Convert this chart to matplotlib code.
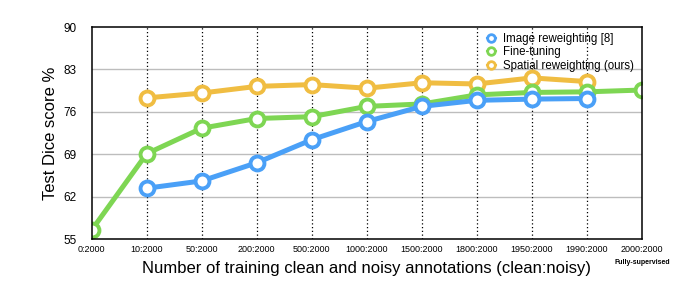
import matplotlib
matplotlib.use("Agg")
import matplotlib.pyplot as plt
from matplotlib.lines import Line2D

plt.rcParams['font.family'] = ['Liberation Sans', 'DejaVu Sans']

categories = ["0:2000", "10:2000", "50:2000", "200:2000", "500:2000", "1000:2000",
              "1500:2000", "1800:2000", "1950:2000", "1990:2000", "2000:2000"]
image_rew_idx = [1, 2, 3, 4, 5, 6, 7, 8, 9]
image_rew = [63.4, 64.6, 67.6, 71.4, 74.4, 76.9, 77.9, 78.1, 78.2]
finetune_idx = [0, 1, 2, 3, 4, 5, 6, 7, 8, 9, 10]
finetune = [56.5, 69.1, 73.3, 74.9, 75.2, 76.9, 77.3, 78.8, 79.2, 79.3, 79.6]
spatial_idx = [1, 2, 3, 4, 5, 6, 7, 8, 9]
spatial = [78.3, 79.1, 80.2, 80.5, 79.9, 80.8, 80.6, 81.6, 81.0]
yticks = [55, 62, 69, 76, 83, 90]

c_blue = "#4aa0f7"
c_green = "#7ed653"
c_yellow = "#f0bd42"

fig = plt.figure(figsize=(7, 3), dpi=100)
ax = fig.add_axes([0.131, 0.203, 0.786, 0.707])

for y in yticks[1:-1]:
    ax.axhline(y, color="#bdbdbd", lw=1.0, zorder=0)
for i in range(1, len(categories) - 1):
    ax.axvline(i, color="black", lw=0.9, ls=(0, (1, 2)), zorder=0)

style = dict(lw=3.6, marker="o", ms=10, mfc="white", mew=2.8)
ax.plot(spatial_idx, spatial, color=c_yellow, mec=c_yellow, zorder=3,
        label="Spatial reweighting (ours)", **style)
ax.plot(finetune_idx, finetune, color=c_green, mec=c_green, zorder=4,
        label="Fine-tuning", **style)
ax.plot(image_rew_idx, image_rew, color=c_blue, mec=c_blue, zorder=5,
        label="Image reweighting [8]", **style)

ax.set_xlim(0, len(categories) - 1)
ax.set_ylim(55, 90)
ax.set_yticks(yticks)
ax.set_yticklabels([str(v) for v in yticks], fontsize=8.5)
ax.set_xticks(range(len(categories)))
ax.set_xticklabels(categories, fontsize=6.5)
ax.tick_params(axis="x", length=0, pad=4)
ax.tick_params(axis="y", length=0, pad=11)
for s in ax.spines.values():
    s.set_color("black")
    s.set_linewidth(1.1)
    s.set_zorder(6)

ax.set_xlabel("Number of training clean and noisy annotations (clean:noisy)", fontsize=12, labelpad=5)
ax.set_ylabel("Test Dice score %", fontsize=12, labelpad=4)

ax.text(len(categories) - 1, -0.095, "Fully-supervised", transform=ax.get_xaxis_transform(),
        ha="center", va="top", fontsize=5, fontweight="bold", clip_on=False)

leg_style = dict(lw=1.5, marker="o", ms=5.5, mfc="white", mew=2)
h = [Line2D([], [], color=c, mec=c, **leg_style) for c in (c_blue, c_green, c_yellow)]
ax.legend(h, ["Image reweighting [8]", "Fine-tuning", "Spatial reweighting (ours)"],
          loc="upper right", bbox_to_anchor=(1.0, 1.01), frameon=False, fontsize=8.3,
          handlelength=0.8, handletextpad=0.6, labelspacing=0.12, borderaxespad=0.3)

fig.savefig("out.png", dpi=100)
